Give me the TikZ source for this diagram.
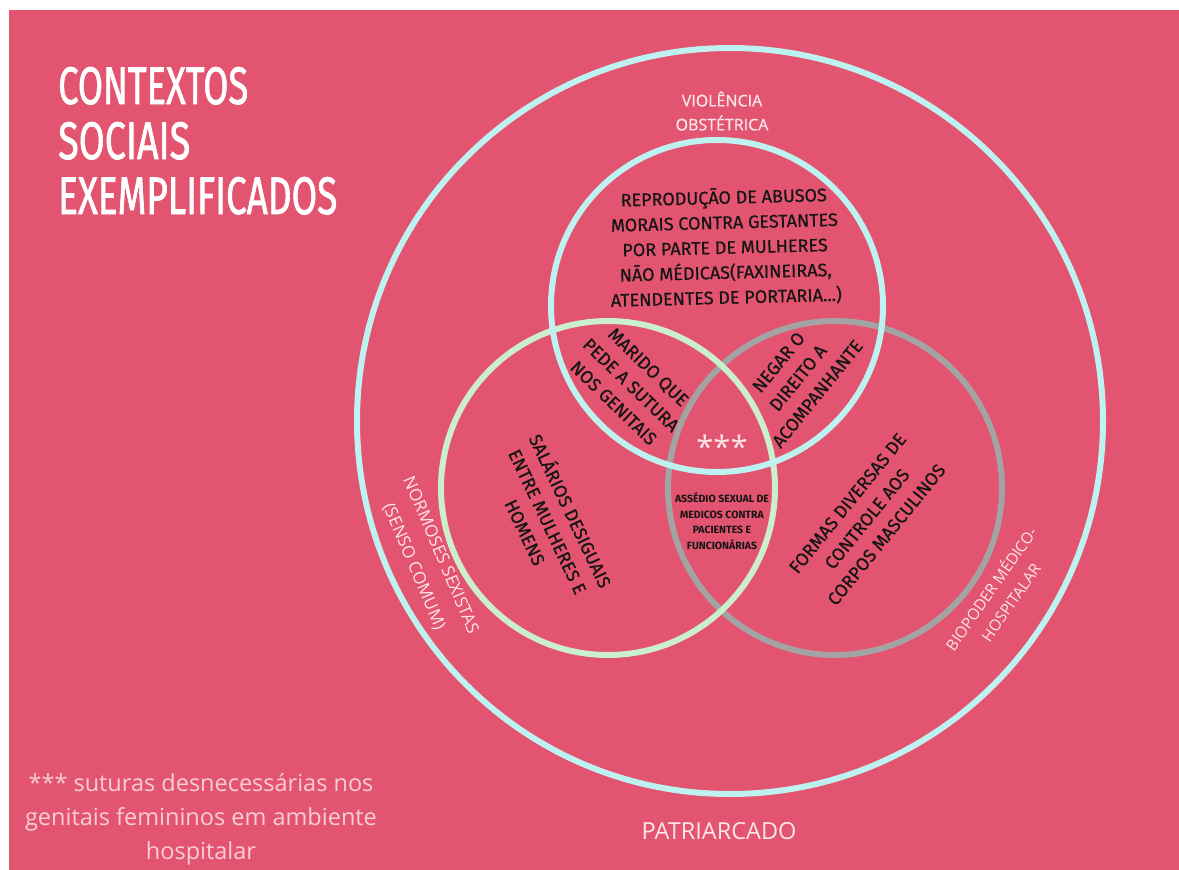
\documentclass[tikz,border=0pt]{standalone}
\usepackage{fontspec}
\usepackage{graphicx}
\newfontfamily\labfont[FakeBold=0.5]{Fira Sans}
\newfontfamily\labbold{Fira Sans}
\newfontfamily\opfont{Open Sans}
\newfontfamily\opmed[FakeBold=0.6]{Open Sans}
\newfontfamily\ttlfont[FakeBold=1.6]{Fira Sans}
\definecolor{bg}{HTML}{E35470}
\definecolor{ringcyan}{HTML}{BDF2F0}
\definecolor{ringgreen}{HTML}{CBEFCB}
\definecolor{ringgray}{HTML}{A3A3A3}
\definecolor{litepink}{HTML}{FCE6EB}
\definecolor{notepink}{HTML}{F8CDD6}
\definecolor{ink}{HTML}{151515}
\tikzset{
  ring/.style={line width=6pt},
  blk/.style={text=ink, font=\labfont\fontsize{18}{25}\selectfont, align=center, inner sep=0pt},
  small/.style={text=ink, font=\labbold\bfseries\fontsize{10.5}{15.5}\selectfont, align=center, inner sep=0pt},
  lite/.style={text=litepink, font=\opfont\fontsize{17}{29}\selectfont, align=center, inner sep=0pt},
  ttl/.style={text=white, font=\ttlfont, anchor=base west, inner sep=0pt},
}
\begin{document}
\begin{tikzpicture}[x=1pt,y=-1pt]
\useasboundingbox (0,0) rectangle (1179,870);
\fill[white] (0,0) rectangle (1179,870);
\fill[bg] (9,10) rectangle (1179,870);

% circles
\draw[ring, ringcyan] (730,421) ellipse [x radius=373, y radius=373];
\draw[ring, ringgray] (835,488) ellipse [x radius=167, y radius=167];
\draw[ring, ringgreen] (608,488) ellipse [x radius=167, y radius=167];
\draw[ring, ringcyan] (717,306) ellipse [x radius=166, y radius=166];

% title
\node[ttl] (t1) at (58,104) {\resizebox{190pt}{37pt}{CONTEXTOS}};
\node[ttl] (t2) at (58,159) {\resizebox{132pt}{37pt}{SOCIAIS}};
\node[ttl] (t3) at (58,214) {\resizebox{279pt}{37pt}{EXEMPLIFICADOS}};

% outer labels
\node[lite, font=\opmed\fontsize{16}{24}\selectfont] (viol) at (722,111) {VIOLÊNCIA\\OBSTÉTRICA};
\node[lite, font=\opfont\fontsize{23.5}{24}\selectfont] (patr) at (719,831) {PATRIARCADO};
\node[lite, rotate=-67] (norm) at (427,561) {NORMOSES SEXISTAS\\(SENSO COMUM)};
\node[lite, font=\opfont\fontsize{15.5}{24}\selectfont, rotate=55] (bio) at (1000,595) {BIOPODER MÉDICO-\\HOSPITALAR};

% inner labels
\node[blk, rotate=1.5] (repr) at (725,247) {REPRODUÇÃO DE ABUSOS\\MORAIS CONTRA GESTANTES\\POR PARTE DE MULHERES\\NÃO MÉDICAS(FAXINEIRAS,\\ATENDENTES DE PORTARIA...)};
\node[blk, rotate=-44] (mari) at (631,385) {MARIDO QUE\\PEDE A SUTURA\\NOS GENITAIS};
\node[blk, rotate=51] (nega) at (798,378) {NEGAR O\\DIREITO A\\ACOMPANHANTE};
\node[blk, rotate=-64.6] (sala) at (549,521) {SALÁRIOS DESIGUAIS\\ENTRE MULHERES E\\HOMENS};
\node[blk, rotate=51] (form) at (867,519) {FORMAS DIVERSAS DE\\CONTROLE AOS\\CORPOS MASCULINOS};
\node[small] (asse) at (722,521) {ASSÉDIO SEXUAL DE\\MEDICOS CONTRA\\PACIENTES E\\FUNCIONÁRIAS};
\node[text=litepink, font=\opfont\fontsize{31}{31}\selectfont, inner sep=0pt] (ast) at (722,447) {***};

% footnote
\node[text=notepink, font=\opfont\fontsize{23.5}{34}\selectfont, align=center, inner sep=0pt] (note) at (201,819) {*** suturas desnecessárias nos\\genitais femininos em ambiente\\hospitalar};
\end{tikzpicture}
\end{document}
